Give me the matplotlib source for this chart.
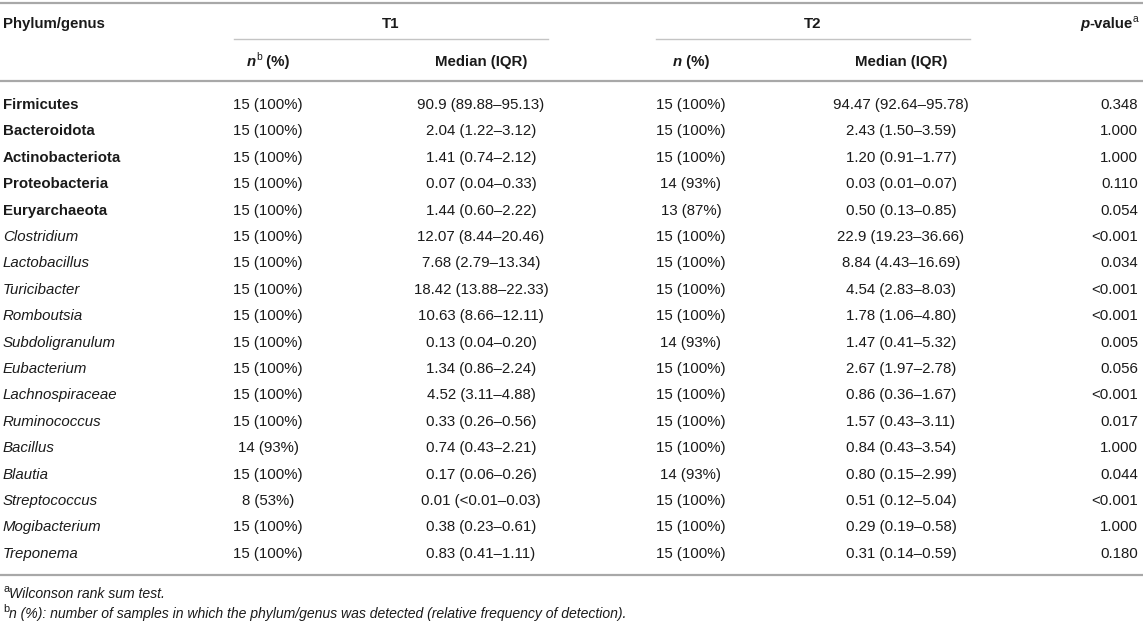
import matplotlib
matplotlib.use("Agg")
import matplotlib.pyplot as plt

plt.rcParams["font.family"] = ["Liberation Sans", "DejaVu Sans"]

# table content
names = [
    "Firmicutes", "Bacteroidota", "Actinobacteriota", "Proteobacteria", "Euryarchaeota",
    "Clostridium", "Lactobacillus", "Turicibacter", "Romboutsia", "Subdoligranulum",
    "Eubacterium", "Lachnospiraceae", "Ruminococcus", "Bacillus", "Blautia",
    "Streptococcus", "Mogibacterium", "Treponema",
]
is_phylum = [True] * 5 + [False] * 13
n_t1 = [
    "15 (100%)", "15 (100%)", "15 (100%)", "15 (100%)", "15 (100%)",
    "15 (100%)", "15 (100%)", "15 (100%)", "15 (100%)", "15 (100%)",
    "15 (100%)", "15 (100%)", "15 (100%)", "14 (93%)", "15 (100%)",
    "8 (53%)", "15 (100%)", "15 (100%)",
]
median_t1 = [
    "90.9 (89.88–95.13)", "2.04 (1.22–3.12)", "1.41 (0.74–2.12)", "0.07 (0.04–0.33)",
    "1.44 (0.60–2.22)", "12.07 (8.44–20.46)", "7.68 (2.79–13.34)", "18.42 (13.88–22.33)",
    "10.63 (8.66–12.11)", "0.13 (0.04–0.20)", "1.34 (0.86–2.24)", "4.52 (3.11–4.88)",
    "0.33 (0.26–0.56)", "0.74 (0.43–2.21)", "0.17 (0.06–0.26)", "0.01 (<0.01–0.03)",
    "0.38 (0.23–0.61)", "0.83 (0.41–1.11)",
]
n_t2 = [
    "15 (100%)", "15 (100%)", "15 (100%)", "14 (93%)", "13 (87%)",
    "15 (100%)", "15 (100%)", "15 (100%)", "15 (100%)", "14 (93%)",
    "15 (100%)", "15 (100%)", "15 (100%)", "15 (100%)", "14 (93%)",
    "15 (100%)", "15 (100%)", "15 (100%)",
]
median_t2 = [
    "94.47 (92.64–95.78)", "2.43 (1.50–3.59)", "1.20 (0.91–1.77)", "0.03 (0.01–0.07)",
    "0.50 (0.13–0.85)", "22.9 (19.23–36.66)", "8.84 (4.43–16.69)", "4.54 (2.83–8.03)",
    "1.78 (1.06–4.80)", "1.47 (0.41–5.32)", "2.67 (1.97–2.78)", "0.86 (0.36–1.67)",
    "1.57 (0.43–3.11)", "0.84 (0.43–3.54)", "0.80 (0.15–2.99)", "0.51 (0.12–5.04)",
    "0.29 (0.19–0.58)", "0.31 (0.14–0.59)",
]
p_values = [
    "0.348", "1.000", "1.000", "0.110", "0.054", "<0.001", "0.034", "<0.001", "<0.001",
    "0.005", "0.056", "<0.001", "0.017", "1.000", "0.044", "<0.001", "1.000", "0.180",
]
footnote_a = "Wilconson rank sum test."
footnote_b = "n (%): number of samples in which the phylum/genus was detected (relative frequency of detection)."

W, H = 1143, 622
FS = 10.8
TXT = "#1a1a1a"
LINE = "#a8a8a8"

fig = plt.figure(figsize=(W / 100, H / 100), dpi=100)
ax = fig.add_axes([0, 0, 1, 1])
ax.set_xlim(0, W)
ax.set_ylim(H, 0)
ax.axis("off")
renderer = fig.canvas.get_renderer()

x_label, x_n1, x_m1, x_n2, x_m2, x_p = 3, 268, 481, 691, 901, 1138
base = 5  # baseline offset from row centre


def runs(x, yc, parts, ha="left", size=FS, sup_scale=0.68):
    """Draw text pieces side by side; parts = (text, weight, style, superscript)."""
    objs, cur = [], 0.0
    for s, weight, style, sup in parts:
        fs = size * sup_scale if sup else size
        y = yc + base - (6 if sup else 0)
        t = ax.text(0, y, s, fontsize=fs, fontweight=weight, fontstyle=style,
                    color=TXT, va="baseline", ha="left")
        w = t.get_window_extent(renderer).width
        objs.append((t, cur))
        cur += w
    if ha == "center":
        x0 = x - cur / 2
    elif ha == "right":
        x0 = x - cur
    else:
        x0 = x
    for t, off in objs:
        t.set_x(x0 + off)


def cell(x, yc, s, ha, weight="normal", style="normal", size=FS):
    ax.text(x, yc + base, s, fontsize=size, fontweight=weight, fontstyle=style,
            color=TXT, va="baseline", ha=ha)


# rules
ax.plot([0, W], [3, 3], color=LINE, lw=1.6, solid_capstyle="butt")
ax.plot([234, 548], [39, 39], color="#c4c4c4", lw=1.0)
ax.plot([656, 970], [39, 39], color="#c4c4c4", lw=1.0)
ax.plot([0, W], [81, 81], color=LINE, lw=1.6, solid_capstyle="butt")
ax.plot([0, W], [575, 575], color=LINE, lw=1.6, solid_capstyle="butt")

# header
cell(x_label, 23, "Phylum/genus", "left", weight="bold")
cell((234 + 548) / 2, 23, "T1", "center", weight="bold")
cell((656 + 970) / 2, 23, "T2", "center", weight="bold")
runs(x_p, 23, [("p", "bold", "italic", False), ("-value", "bold", "normal", False),
               ("a", "normal", "normal", True)], ha="right")
runs(x_n1, 61, [("n", "bold", "italic", False), ("b", "normal", "normal", True),
                (" (%)", "bold", "normal", False)], ha="center")
cell(x_m1, 61, "Median (IQR)", "center", weight="bold")
runs(x_n2, 61, [("n", "bold", "italic", False), (" (%)", "bold", "normal", False)], ha="center")
cell(x_m2, 61, "Median (IQR)", "center", weight="bold")

# body
row0, step = 104, 26.4
for i, name in enumerate(names):
    yc = row0 + i * step
    if is_phylum[i]:
        cell(x_label, yc, name, "left", weight="bold")
    else:
        cell(x_label, yc, name, "left", style="italic")
    cell(x_n1, yc, n_t1[i], "center")
    cell(x_m1, yc, median_t1[i], "center")
    cell(x_n2, yc, n_t2[i], "center")
    cell(x_m2, yc, median_t2[i], "center")
    cell(x_p, yc, p_values[i], "right")

# footnotes
runs(x_label, 593, [("a", "normal", "normal", True), (footnote_a, "normal", "italic", False)],
     size=10.1, sup_scale=0.78)
runs(x_label, 613, [("b", "normal", "normal", True), (footnote_b, "normal", "italic", False)],
     size=10.1, sup_scale=0.78)

fig.savefig("out.png", dpi=100)
